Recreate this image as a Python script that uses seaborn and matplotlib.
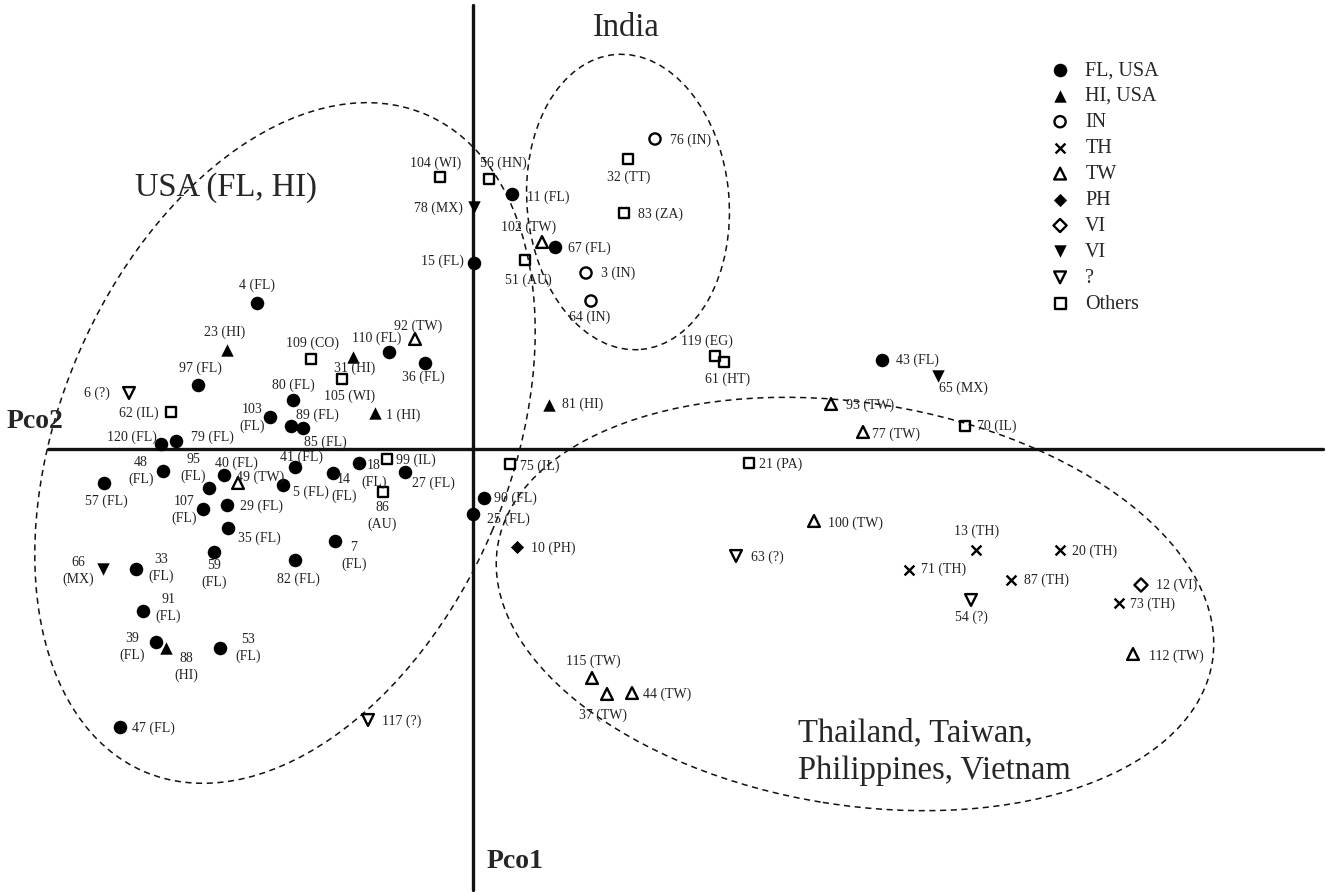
import matplotlib
matplotlib.use("Agg")
import matplotlib.pyplot as plt
from matplotlib.patches import Ellipse
import seaborn as sns
import pandas as pd

# isolate number, origin code and PCo scores (horizontal = Pco2, vertical = Pco1)
sample = [4, 97, 80, 103, 89, 85, 120, 79, 110, 36, 48, 57, 95, 40, 41, 5, 14, 18,
          27, 107, 29, 35, 59, 82, 7, 33, 91, 39, 53, 47, 11, 67, 15, 90, 25, 43,
          23, 31, 1, 88, 81,
          76, 3, 64,
          13, 20, 71, 87, 73,
          92, 49, 102, 93, 77, 100, 112, 115, 37, 44,
          10, 12,
          78, 66, 65,
          6, 117, 63, 54,
          62, 109, 105, 99, 86, 104, 56, 51, 32, 83, 119, 61, 75, 21, 70]
origin = ['FL'] * 36 + ['HI'] * 5 + ['IN'] * 3 + ['TH'] * 5 + ['TW'] * 10 + \
         ['PH', 'VI'] + ['MX'] * 3 + ['?'] * 4 + \
         ['IL', 'CO', 'WI', 'IL', 'AU', 'WI', 'HN', 'AU', 'TT', 'ZA', 'EG', 'HT', 'IL', 'PA', 'IL']
pco2 = [-2.16, -2.75, -1.80, -2.03, -1.82, -1.70, -3.12, -2.97, -0.84, -0.48, -3.10, -3.69,
        -2.64, -2.49, -1.78, -1.90, -1.40, -1.14, -0.68, -2.70, -2.46, -2.45, -2.59, -1.78,
        -1.38, -3.37, -3.30, -3.17, -2.53, -3.53, 0.39, 0.82, 0.01, 0.11, 0.00, 4.09,
        -2.46, -1.20, -0.98, -3.07, 0.76,
        1.82, 1.13, 1.18,
        5.03, 5.87, 4.36, 5.38, 6.46,
        -0.58, -2.35, 0.69, 3.58, 3.90, 3.41, 6.60, 1.19, 1.34, 1.59,
        0.44, 6.68,
        0.01, -3.70, 4.65,
        -3.44, -1.05, 2.63, 4.98,
        -3.02, -1.62, -1.31, -0.86, -0.90, -0.33, 0.16, 0.52, 1.55, 1.51, 2.42, 2.51, 0.37, 2.76, 4.92]
pco1 = [1.46, 0.64, 0.49, 0.32, 0.23, 0.21, 0.05, 0.08, 0.97, 0.86, -0.22, -0.34,
        -0.39, -0.26, -0.18, -0.36, -0.24, -0.14, -0.23, -0.60, -0.56, -0.79, -1.03, -1.11,
        -0.92, -1.20, -1.62, -1.93, -1.99, -2.78, 2.55, 2.02, 1.86, -0.49, -0.65, 0.89,
        0.99, 0.92, 0.36, -1.99, 0.44,
        3.10, 1.76, 1.48,
        -1.01, -1.01, -1.21, -1.31, -1.54,
        1.10, -0.34, 2.07, 0.45, 0.17, -0.72, -2.05, -2.29, -2.45, -2.44,
        -0.98, -1.36,
        2.42, -1.20, 0.73,
        0.56, -2.71, -1.07, -1.51,
        0.37, 0.90, 0.70, -0.10, -0.43, 2.72, 2.70, 1.89, 2.90, 2.36, 0.93, 0.87, -0.15, -0.14, 0.23]

groups = ['FL', 'HI', 'IN', 'TH', 'TW', 'PH', 'VI', 'MX', '?', 'Others']
legend_names = ['FL, USA', 'HI, USA', 'IN', 'TH', 'TW', 'PH', 'VI', 'VI', '?', 'Others']

# label offsets from the marker, pixels (dx right, dy down)
label_off = {
    4: (0, -18), 97: (2, -17), 80: (0, -15), 103: (-18, 1), 89: (26, -11), 85: (22, 14),
    120: (-29, -7), 79: (36, -4), 110: (-12, -14), 36: (-2, 14), 48: (-22, 0), 57: (2, 18),
    95: (-16, -20), 40: (12, -12), 41: (7, -10), 5: (28, 7), 14: (11, 15), 18: (15, 11),
    27: (28, 11), 107: (-19, 1), 29: (34, 1), 35: (31, 10), 59: (0, 22), 82: (3, 19),
    7: (19, 15), 33: (25, -1), 91: (25, -3), 39: (-24, 5), 53: (28, 0), 47: (33, 1),
    11: (36, 3), 67: (34, 1), 15: (-32, -2), 90: (31, 0), 25: (35, 5), 43: (35, 0),
    23: (-2, -18), 31: (2, 11), 1: (28, 2), 88: (20, 19), 81: (34, -1),
    76: (36, 1), 3: (32, 0), 64: (-1, 16),
    13: (1, -19), 20: (35, 1), 71: (35, -1), 87: (35, 0), 73: (33, 1),
    92: (3, -13), 49: (22, -6), 102: (-13, -15), 93: (39, 1), 77: (33, 2), 100: (42, 2),
    112: (43, 2), 115: (1, -17), 37: (-4, 21), 44: (35, 1),
    10: (36, 1), 12: (36, 0), 78: (-36, 1), 66: (-25, 2), 65: (25, 12),
    6: (-32, 0), 117: (34, 1), 63: (31, 1), 54: (0, 17),
    62: (-32, 1), 109: (2, -16), 105: (8, 17), 99: (29, 1), 86: (-1, 24), 104: (-4, -14),
    56: (14, -16), 51: (3, 20), 32: (1, 18), 83: (37, 1), 119: (-8, -15), 61: (4, 17),
    75: (30, 2), 21: (32, 1), 70: (32, 0),
}
two_line = {103, 48, 95, 14, 18, 107, 59, 7, 33, 91, 39, 53, 88, 66, 86}

styles = {
    'FL': ('o', 95, True), 'HI': ('^', 80, True), 'IN': ('o', 65, False),
    'TH': ('x', 50, None), 'TW': ('^', 72, False), 'PH': ('D', 45, True),
    'VI': ('D', 45, False), 'MX': ('v', 80, True), '?': ('v', 72, False),
    'Others': ('s', 62, False),
}

df = pd.DataFrame({'sample': sample, 'origin': origin, 'pco2': pco2, 'pco1': pco1})
df['group'] = df['origin'].where(df['origin'].isin(groups), 'Others')

sns.set_theme(style="white")
plt.rcParams['font.family'] = ['Liberation Serif', 'DejaVu Serif']

fig = plt.figure(figsize=(13.26, 8.92), dpi=100)
ax = fig.add_axes([0, 0, 1, 1])
ax.set_xlim(-4.73, 8.53)
ax.set_ylim(-4.43, 4.49)
ax.axis('off')

# axes cross
ax.axhline(0, xmin=48 / 1326, xmax=1323 / 1326, color='#111111', lw=2.4, zorder=2)
ax.axvline(0, ymin=2 / 892, ymax=887 / 892, color='#111111', lw=2.4, zorder=2)

# grouping ellipses
dash = (0, (4, 3))
for (cx, cy), w, h, ang in [((-1.88, 0.06), 7.15, 4.50, 66.8),
                            ((1.55, 2.47), 2.02, 2.96, 5),
                            ((3.82, -1.55), 7.24, 4.02, -9.2)]:
    ax.add_patch(Ellipse((cx, cy), w, h, angle=ang, fill=False, ec='#111111',
                         lw=1.1, ls=dash, zorder=1))

for g, name in zip(groups, legend_names):
    sub = df[df['group'] == g]
    marker, size, filled = styles[g]
    kw = dict(marker=marker, s=size, color='black', label=name, ax=ax, zorder=3)
    if filled is None:
        kw.update(edgecolor='black', linewidth=1.7)
    elif filled:
        kw.update(edgecolor='black', linewidth=0)
    else:
        kw.update(facecolor='none', edgecolor='black', linewidth=1.7)
    sns.scatterplot(data=sub, x='pco2', y='pco1', **kw)

for s, o, x, y in zip(sample, origin, pco2, pco1):
    dx, dy = label_off[s]
    txt = f"{s}\n({o})" if s in two_line else f"{s} ({o})"
    ax.annotate(txt, (x, y), xytext=(dx, -dy), textcoords='offset pixels',
                ha='center', va='center', fontsize=10, linespacing=1.3,
                color='#222222', zorder=4)

ax.text(-4.38, 0.27, 'Pco2', fontsize=20, fontweight='bold', ha='center', va='center')
ax.text(0.42, -4.13, 'Pco1', fontsize=20, fontweight='bold', ha='center', va='center')
ax.text(1.53, 4.21, 'India', fontsize=23.5, ha='center', va='center')
ax.text(-2.47, 2.61, 'USA (FL, HI)', fontsize=23.5, ha='center', va='center')
ax.text(3.25, -3.03, 'Thailand, Taiwan,\nPhilippines, Vietnam', fontsize=23.5,
        ha='left', va='center', linespacing=1.3)

ax.legend(loc='upper left', bbox_to_anchor=(1050 / 1326, 1 - 61 / 892), frameon=False,
          fontsize=14.5, handlelength=1.0, handletextpad=0.75, labelspacing=0.34,
          borderpad=0, borderaxespad=0, scatterpoints=1)

fig.savefig('out.png', dpi=100)
plt.close(fig)
